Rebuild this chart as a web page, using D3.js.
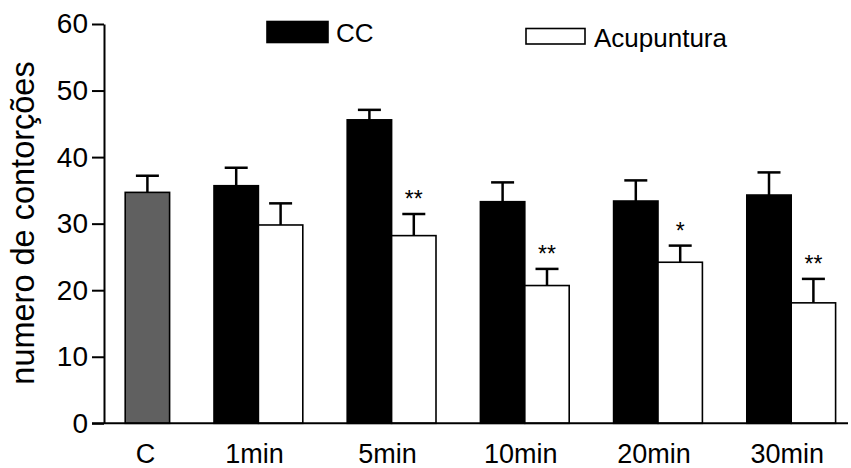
<!DOCTYPE html>
<html>
<head>
<meta charset="utf-8">
<script src="https://cdn.jsdelivr.net/npm/d3@7"></script>
<style>
  body { margin: 0; background: #fff; }
  text { font-family: "Liberation Sans", Arial, Helvetica, sans-serif; fill: #000; }
</style>
</head>
<body>
<div id="chart"></div>
<script>
// Data
var categories = ["C", "1min", "5min", "10min", "20min", "30min"];
var series = ["CC", "Acupuntura"];

// control group (single grey bar)
var controlMean = 34.7;
var controlErr = 2.5;

// timed groups, one value per category after "C"
var ccMean = [35.7, 45.6, 33.3, 33.4, 34.3];
var ccErr = [2.7, 1.5, 2.9, 3.1, 3.4];
var acuMean = [29.8, 28.2, 20.7, 24.2, 18.1];
var acuErr = [3.25, 3.25, 2.5, 2.5, 3.6];
var acuStars = ["", "**", "**", "*", "**"];

var yTicks = [0, 10, 20, 30, 40, 50, 60];

var width = 851, height = 468;

var svg = d3.select("#chart").append("svg")
  .attr("width", width)
  .attr("height", height);

// Scales
var y = d3.scaleLinear().domain([0, 60]).range([423.3, 24]);

var x = d3.scaleBand()
  .domain(categories)
  .range([58.6, 857.8])
  .paddingInner(1 / 3)
  .paddingOuter(1 / 6);

var xs = d3.scaleBand()
  .domain(series)
  .range([0, x.bandwidth()]);

var fills = { "CC": "#000", "Acupuntura": "#fff" };

// Build bar records
var bars = [{
  cat: "C", key: "Acupuntura", value: controlMean, err: controlErr,
  fill: "#606060", star: ""
}];
for (var i = 1; i < categories.length; i++) {
  bars.push({ cat: categories[i], key: "CC", value: ccMean[i - 1], err: ccErr[i - 1], fill: fills.CC, star: "" });
  bars.push({ cat: categories[i], key: "Acupuntura", value: acuMean[i - 1], err: acuErr[i - 1], fill: fills.Acupuntura, star: acuStars[i - 1] });
}

function barX(d) { return x(d.cat) + xs(d.key); }
function barMid(d) { return barX(d) + xs.bandwidth() / 2; }

var g = svg.append("g");

// Error bars (upper only), drawn first so the bar outline covers the stem base
var err = g.selectAll(".err").data(bars).enter().append("g").attr("class", "err");
err.append("line")
  .attr("x1", barMid).attr("x2", barMid)
  .attr("y1", function(d) { return y(d.value); })
  .attr("y2", function(d) { return y(d.value + d.err); })
  .attr("stroke", "#000").attr("stroke-width", 2.5);
err.append("line")
  .attr("x1", function(d) { return barMid(d) - 11.5; })
  .attr("x2", function(d) { return barMid(d) + 11.5; })
  .attr("y1", function(d) { return y(d.value + d.err); })
  .attr("y2", function(d) { return y(d.value + d.err); })
  .attr("stroke", "#000").attr("stroke-width", 2.5);

// Bars
g.selectAll(".bar").data(bars).enter().append("rect")
  .attr("class", "bar")
  .attr("x", barX)
  .attr("y", function(d) { return y(d.value); })
  .attr("width", xs.bandwidth())
  .attr("height", function(d) { return y(0) - y(d.value); })
  .attr("fill", function(d) { return d.fill; })
  .attr("stroke", "#000")
  .attr("stroke-width", 1.6);

// Significance stars
g.selectAll(".star").data(bars.filter(function(d) { return d.star; })).enter().append("text")
  .attr("class", "star")
  .attr("x", barMid)
  .attr("y", function(d) { return y(d.value + d.err) - 7; })
  .attr("text-anchor", "middle")
  .attr("font-size", 23)
  .text(function(d) { return d.star; });

// Y axis
var yAxis = d3.axisLeft(y)
  .tickValues(yTicks)
  .tickSize(12)
  .tickSizeOuter(0)
  .tickPadding(4);

var ya = svg.append("g")
  .attr("transform", "translate(104,0)")
  .call(yAxis);
ya.select(".domain").attr("stroke-width", 2);
ya.selectAll(".tick line").attr("stroke-width", 2);
ya.selectAll(".tick text")
  .attr("font-size", 28)
  .attr("font-family", "Liberation Sans, Arial, sans-serif");

// X axis line
svg.append("line")
  .attr("x1", 92).attr("x2", 848)
  .attr("y1", y(0)).attr("y2", y(0))
  .attr("stroke", "#000").attr("stroke-width", 2);

// X labels
svg.selectAll(".xlab").data(categories).enter().append("text")
  .attr("class", "xlab")
  .attr("x", function(d) {
    return d === "C" ? x(d) + xs("Acupuntura") + xs.bandwidth() / 2 - 2 : x(d) + x.bandwidth() / 2 - 4;
  })
  .attr("y", 463)
  .attr("text-anchor", "middle")
  .attr("font-size", 27)
  .text(function(d) { return d; });

// Y title
svg.append("text")
  .attr("transform", "translate(34,223) rotate(-90)")
  .attr("text-anchor", "middle")
  .attr("font-size", 32.5)
  .text("numero de contorções");

// Legend
var legend = [
  { key: "CC", x: 267, y: 21.5, w: 61, h: 21, tx: 336, ty: 42 },
  { key: "Acupuntura", x: 526, y: 28.5, w: 59, h: 15.5, tx: 594, ty: 46.5 }
];
var lg = svg.selectAll(".leg").data(legend).enter().append("g").attr("class", "leg");
lg.append("rect")
  .attr("x", function(d) { return d.x; })
  .attr("y", function(d) { return d.y; })
  .attr("width", function(d) { return d.w; })
  .attr("height", function(d) { return d.h; })
  .attr("fill", function(d) { return fills[d.key]; })
  .attr("stroke", "#000").attr("stroke-width", 1.6);
lg.append("text")
  .attr("x", function(d) { return d.tx; })
  .attr("y", function(d) { return d.ty; })
  .attr("font-size", 26)
  .text(function(d) { return d.key; });
</script>
</body>
</html>
